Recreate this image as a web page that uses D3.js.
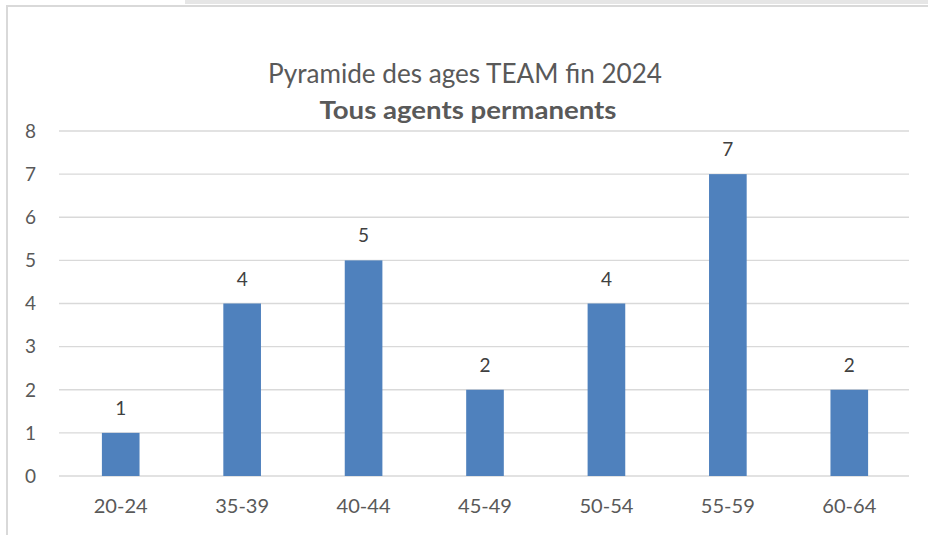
<!DOCTYPE html>
<html><head><meta charset="utf-8">
<script src="https://cdn.jsdelivr.net/npm/d3@7"></script>
<style>body{margin:0;background:#fff;}svg{display:block;}</style>
</head><body>
<svg id="c" width="928" height="535"></svg>
<script>
const categories = ["20-24","35-39","40-44","45-49","50-54","55-59","60-64"];
const values = [1,4,5,2,4,7,2];
const yTicks = [0,1,2,3,4,5,6,7,8];
const title1 = "Pyramide des ages TEAM fin 2024";
const title2 = "Tous agents permanents";

const svg = d3.select("#c");
const font = "Lato, 'Open Sans', sans-serif";

// frame decorations
svg.append("rect").attr("x",185).attr("y",0).attr("width",743).attr("height",4).attr("fill","#e6e6e6");
svg.append("line").attr("x1",6).attr("x2",928).attr("y1",6).attr("y2",6).attr("stroke","#d9d9d9").attr("stroke-width",2);
svg.append("line").attr("x1",7).attr("x2",7).attr("y1",6).attr("y2",535).attr("stroke","#d9d9d9").attr("stroke-width",2);

const x = d3.scaleBand().domain(categories).range([60,910]).paddingInner(0.69).paddingOuter(0.345);
const y = d3.scaleLinear().domain([0,8]).range([476,131]);

// gridlines
svg.append("g").selectAll("line").data(yTicks).join("line")
  .attr("x1",59).attr("x2",909).attr("y1",d=>y(d)).attr("y2",d=>y(d))
  .attr("stroke","#d9d9d9").attr("stroke-width",1.3);

// y labels
svg.append("g").selectAll("text").data(yTicks).join("text")
  .attr("x",36).attr("y",d=>y(d)).attr("dy","0.36em").attr("text-anchor","end")
  .attr("font-family",font).attr("font-size",19).attr("fill","#595959").text(d=>d);

// bars
svg.append("g").selectAll("rect").data(values).join("rect")
  .attr("x",(d,i)=>x(categories[i])).attr("width",x.bandwidth())
  .attr("y",d=>y(d)).attr("height",d=>y(0)-y(d)).attr("fill","#4f81bd");

// data labels
svg.append("g").selectAll("text").data(values).join("text")
  .attr("x",(d,i)=>x(categories[i])+x.bandwidth()/2).attr("y",d=>y(d)-18)
  .attr("text-anchor","middle").attr("font-family",font).attr("font-size",19).attr("fill","#404040").text(d=>d);

// x labels
svg.append("g").selectAll("text").data(categories).join("text")
  .attr("x",d=>x(d)+x.bandwidth()/2).attr("y",513)
  .attr("text-anchor","middle").attr("font-family",font).attr("font-size",19).attr("fill","#595959")
  .attr("textLength",54).attr("lengthAdjust","spacingAndGlyphs").text(d=>d);

// titles
svg.append("text").attr("x",465).attr("y",83).attr("text-anchor","middle")
  .attr("font-family",font).attr("font-size",26).attr("fill","#595959")
  .attr("textLength",394).attr("lengthAdjust","spacingAndGlyphs").text(title1);
svg.append("text").attr("x",468).attr("y",119).attr("text-anchor","middle")
  .attr("font-family",font).attr("font-size",24).attr("font-weight","bold").attr("fill","#595959")
  .attr("textLength",297).attr("lengthAdjust","spacingAndGlyphs").text(title2);
</script>
</body></html>
